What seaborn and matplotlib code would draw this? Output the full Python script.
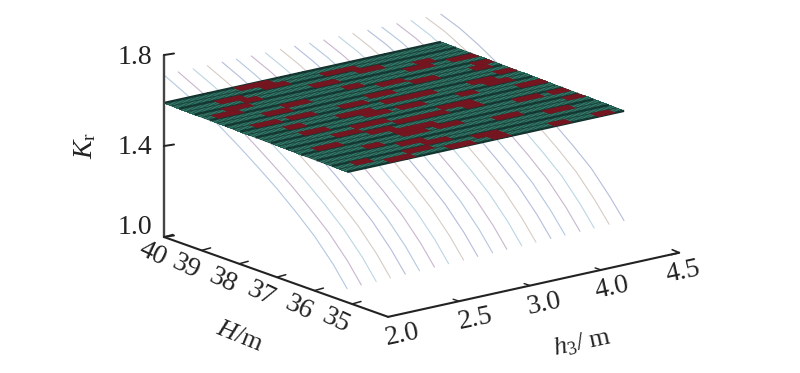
import matplotlib
matplotlib.use("Agg")
import matplotlib.pyplot as plt
import seaborn as sns
import pandas as pd
import numpy as np

# values
H_points = [40, 39.5, 39, 38.5, 38, 37.5, 37, 36.5, 36, 35.5, 35.13]
h3_curve_pos = [0.0, 0.2, 0.41, 0.61, 0.82, 1.02, 1.23, 1.43, 1.64, 1.84,
                2.05, 2.25, 2.46, 2.66, 2.87, 3.07, 3.28, 3.48, 3.69, 3.9]
Kr_curves = [
    [1.712, 1.670, 1.625, 1.572, 1.515, 1.454, 1.390, 1.318, 1.240, 1.145, 1.060],
    [1.712, 1.670, 1.626, 1.573, 1.516, 1.455, 1.391, 1.319, 1.242, 1.147, 1.062],
    [1.711, 1.671, 1.626, 1.574, 1.516, 1.456, 1.392, 1.321, 1.243, 1.148, 1.063],
    [1.711, 1.671, 1.627, 1.574, 1.517, 1.457, 1.393, 1.322, 1.245, 1.150, 1.065],
    [1.712, 1.672, 1.627, 1.575, 1.518, 1.458, 1.394, 1.323, 1.246, 1.151, 1.067],
    [1.712, 1.672, 1.628, 1.575, 1.518, 1.459, 1.395, 1.325, 1.248, 1.153, 1.068],
    [1.711, 1.673, 1.628, 1.576, 1.519, 1.460, 1.396, 1.326, 1.249, 1.154, 1.070],
    [1.711, 1.673, 1.629, 1.577, 1.520, 1.461, 1.397, 1.327, 1.251, 1.156, 1.071],
    [1.712, 1.674, 1.629, 1.577, 1.520, 1.462, 1.398, 1.329, 1.252, 1.157, 1.073],
    [1.712, 1.674, 1.630, 1.578, 1.521, 1.463, 1.399, 1.330, 1.254, 1.159, 1.075],
    [1.711, 1.675, 1.630, 1.579, 1.522, 1.464, 1.400, 1.331, 1.255, 1.160, 1.076],
    [1.711, 1.675, 1.631, 1.579, 1.522, 1.465, 1.401, 1.333, 1.257, 1.162, 1.078],
    [1.712, 1.676, 1.631, 1.580, 1.523, 1.465, 1.402, 1.334, 1.258, 1.163, 1.079],
    [1.712, 1.676, 1.632, 1.580, 1.524, 1.466, 1.403, 1.335, 1.260, 1.164, 1.081],
    [1.711, 1.677, 1.632, 1.581, 1.524, 1.467, 1.404, 1.336, 1.261, 1.166, 1.083],
    [1.711, 1.677, 1.633, 1.582, 1.525, 1.468, 1.405, 1.338, 1.263, 1.167, 1.084],
    [1.712, 1.678, 1.633, 1.582, 1.526, 1.468, 1.406, 1.339, 1.264, 1.169, 1.086],
    [1.712, 1.678, 1.634, 1.583, 1.526, 1.469, 1.407, 1.340, 1.266, 1.170, 1.087],
    [1.711, 1.679, 1.634, 1.584, 1.527, 1.470, 1.408, 1.341, 1.267, 1.171, 1.089],
    [1.711, 1.679, 1.635, 1.584, 1.528, 1.470, 1.409, 1.342, 1.269, 1.172, 1.091],
]
# nearly flat surface, Kr for each row edge from H=40 to H=35.13
Kr_surface = [1.589, 1.588, 1.588, 1.587, 1.586, 1.586, 1.585, 1.585, 1.584,
              1.583, 1.583, 1.582, 1.581, 1.581, 1.580, 1.579, 1.579, 1.578,
              1.577, 1.577, 1.576, 1.575, 1.575, 1.574, 1.573]
# dark red patches of the surface: row, first column, length
red_row = [0, 2, 4, 5, 9, 1, 6, 9, 13, 17, 14, 9, 8, 6, 17, 10, 23, 22, 4, 3, 4, 6, 9, 11,
           13, 10, 7, 10, 14, 15, 15, 17, 18, 22, 23, 21, 23, 22, 20, 18, 16, 19, 23, 23,
           16, 13, 12,
           1, 3, 7, 11, 15, 11, 12, 16, 19, 20, 3, 2, 5, 18, 15, 7, 12]
red_col = [8, 4, 3, 1, 2, 17, 8, 6, 4, 2, 9, 12, 16, 19, 11, 16, 5, 2, 24, 26, 29, 30, 30, 27,
           29, 26, 29, 19, 19, 21, 16, 13, 15, 16, 17, 11, 12, 8, 26, 30, 26, 21, 24, 29,
           30, 30, 16,
           10, 6, 5, 4, 6, 10, 12, 9, 6, 9, 14, 20, 16, 11, 13, 22, 23]
red_len = [4, 3, 3, 3, 3, 4, 3, 3, 3, 3, 4, 3, 3, 3, 3, 3, 3, 2, 3, 2, 3, 2, 2, 3,
           3, 3, 2, 3, 4, 2, 3, 3, 3, 3, 2, 3, 3, 3, 3, 2, 3, 3, 2, 2,
           2, 2, 3,
           3, 2, 3, 2, 3, 4, 3, 3, 2, 3, 3, 3, 2, 3, 3, 3, 2]

Kr_ticks = [1.0, 1.4, 1.8]
H_ticks = [40, 39, 38, 37, 36, 35]
h3_pos = [0, 1, 2, 3, 4]
h3_labels = ['2.0', '2.5', '3.0', '4.0', '4.5']


# oblique axes of the figure, result in pixels
def proj(H, pos, Kr):
    H, pos, Kr = np.asarray(H, float), np.asarray(pos, float), np.asarray(Kr, float)
    x = 164 + (40 - H) * 37.6 + pos * 71.0
    y = 237 + (40 - H) * 13.4 - pos * 15.65 - (Kr - 1.0) * 227.5
    return x, y


sns.set_theme(style="white")
plt.rcParams['font.family'] = ['Liberation Serif']
plt.rcParams['mathtext.fontset'] = 'custom'
plt.rcParams['mathtext.rm'] = 'Liberation Serif'
plt.rcParams['mathtext.it'] = 'Liberation Serif:italic'

fig = plt.figure(figsize=(8, 3.73), dpi=100)
ax = fig.add_axes([0, 0, 1, 1])
ax.axis('off')

# thin curves
rows = []
for i, pos in enumerate(h3_curve_pos):
    x, y = proj(H_points, pos, Kr_curves[i])
    rows.append(pd.DataFrame({'px': x, 'py': y, 'curve': i}))
df = pd.concat(rows)
palette = ['#b4c8e0', '#c9b6cf', '#bcd6e4', '#d8ccc4', '#b4bedb']
sns.lineplot(data=df, x='px', y='py', hue='curve', units='curve', estimator=None, sort=False,
             palette=[palette[i % 5] for i in range(20)], lw=0.8, legend=False, ax=ax, zorder=1)
ax.set_xlim(0, 800)
ax.set_ylim(373, 0)

# surface
n_rows, n_cols = 24, 32
H_edges = np.linspace(40, 35.13, n_rows + 1)
pos_edges = np.linspace(0, 3.9, n_cols + 1)
HH, PP = np.meshgrid(H_edges, pos_edges, indexing='ij')
KK = np.tile(np.array(Kr_surface)[:, None], (1, n_cols + 1))
X, Y = proj(HH, PP, KK)
ax.pcolormesh(X, Y, np.zeros((n_rows, n_cols)), cmap=matplotlib.colors.ListedColormap(['#3f8f7a']),
              shading='flat', zorder=2, edgecolor='none')

# mesh texture, dark bands along h3 every second row, cross strokes give the weave
for k in range(n_rows + 1):
    ax.plot(X[k], Y[k], color='#12302c', lw=1.7 if k % 2 == 0 else 0.5, zorder=3, solid_capstyle='butt')
for f in np.linspace(0, 1, 97):
    xl = X[0, 0] + (X[0, -1] - X[0, 0]) * f
    yl = Y[0, 0] + (Y[0, -1] - Y[0, 0]) * f
    ax.plot([xl, xl + X[-1, 0] - X[0, 0]], [yl, yl + Y[-1, 0] - Y[0, 0]],
            color='#17403a', lw=0.7, alpha=0.8, zorder=3)

# red patches go over the texture
for r, c, n in zip(red_row, red_col, red_len):
    e = min(c + n, n_cols)
    ax.fill([X[r, c], X[r, e], X[r + 1, e], X[r + 1, c]],
            [Y[r, c], Y[r, e], Y[r + 1, e], Y[r + 1, c]],
            color='#741520', lw=0.4, zorder=3.5)

# axes
axc = '#222222'
x0, y0 = proj(40, 0, 1.0)
x1, y1 = proj(40, 0, 1.8)
ax.plot([x0, x1], [y0, y1], color='#444444', lw=1.7, zorder=4)
xc, yc = proj(34.04, 0, 1.0)
ax.plot([x0, xc], [y0, yc], color=axc, lw=1.5, zorder=4)
xe, ye = proj(34.04, 4.1, 1.0)
ax.plot([xc, xe], [yc, ye], color=axc, lw=1.5, zorder=4)
ax.plot([xe - 7, xe, xe - 8], [ye - 3, ye, ye + 2], color=axc, lw=1.2, zorder=4)

for k in Kr_ticks:
    x, y = proj(40, 0, k)
    ax.plot([x, x + 10], [y, y - 1.5], color=axc, lw=1.4, zorder=4)
    ax.text(x - 12, y + (2 if k > 1 else -9), f'{k:.1f}', ha='right', va='center', fontsize=20, color='#222222')

for H in H_ticks:
    x, y = proj(H, 0, 1.0)
    ax.plot([x, x + 9], [y, y - 2.5], color=axc, lw=1.1, zorder=4)
    ax.text(x - 16 + (5 if H == 40 else 0), y + 17, str(H), ha='center', va='center', rotation=-25, fontsize=20,
            color='#222222')

dx = [14, 16, 14, 11, 11]
for p, lab, d in zip(h3_pos, h3_labels, dx):
    x, y = proj(34.04, p, 1.0)
    if 0 < p < 4:
        ax.plot([x, x - 6], [y, y - 2], color=axc, lw=1.0, zorder=4)
    ax.text(x + d, y + 18, lab, ha='center', va='center', rotation=12, fontsize=20, color='#222222')

ax.text(85, 145, r'$K_{\mathrm{r}}$', rotation=90, ha='center', va='center', fontsize=20, color='#222222')
ax.text(240, 337, r'$H$/m', rotation=-22, ha='center', va='center', fontsize=19, color='#222222')
ax.text(582, 343, r'$h_{3}$/ m', rotation=12, ha='center', va='center', fontsize=19, color='#222222')

fig.savefig('out.png', dpi=100)
